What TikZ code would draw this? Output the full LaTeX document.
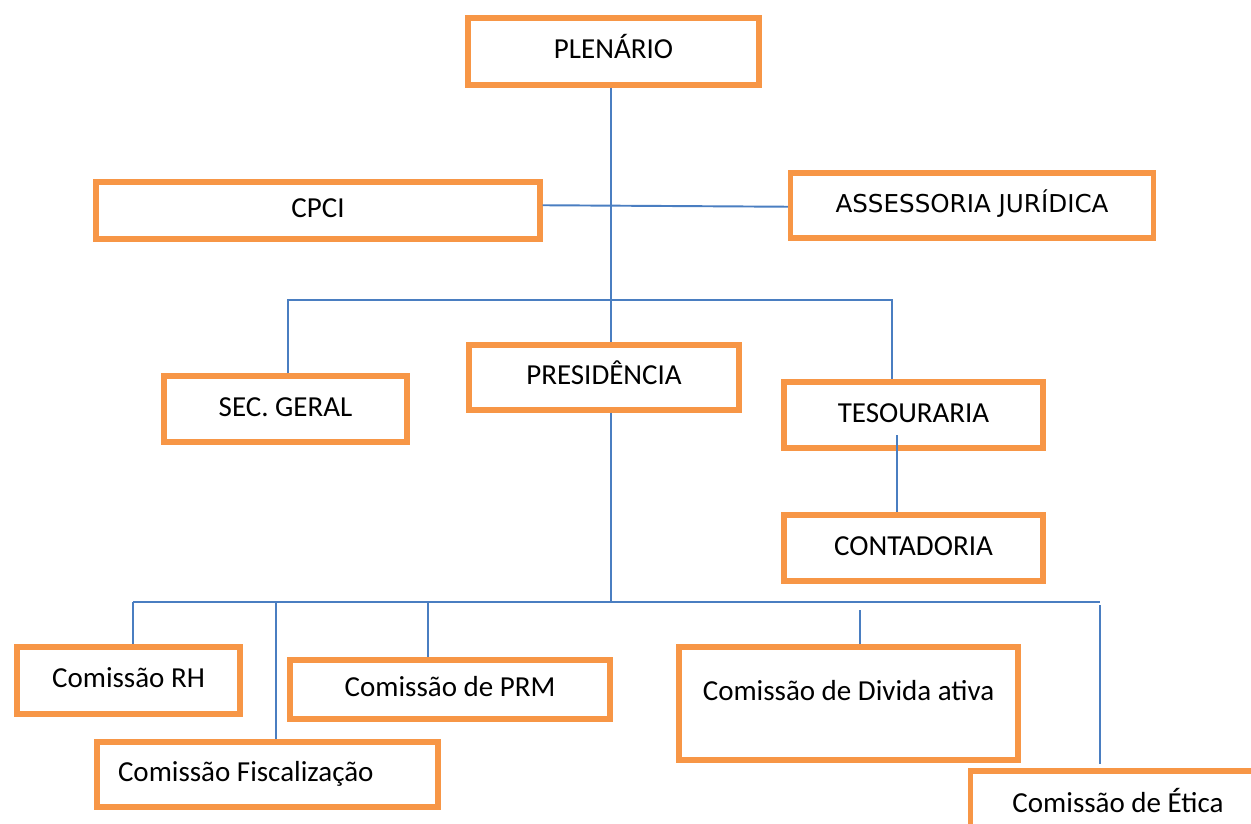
\documentclass[tikz,border=0pt]{standalone}
\usepackage{fontspec}
\setmainfont{Carlito}
\newfontfamily\widefont{DejaVu Sans}
\definecolor{boxorange}{RGB}{247,150,70}
\definecolor{linkblue}{RGB}{74,126,193}
\begin{document}
\begin{tikzpicture}[x=0.02cm, y=-0.02cm,
  orgbox/.style={draw=boxorange, line width=3pt, fill=white, inner sep=0pt,
    text height=11.5pt, text depth=3.5pt, font=\fontsize{16.5}{20}\selectfont},
  link/.style={draw=linkblue, line width=1.1pt}]
\useasboundingbox (0,0) rectangle (1251,823);
\clip (0,0) rectangle (1251,823);
% boxes
\node[orgbox, minimum width=5.82cm, minimum height=1.34cm] (plen) at (613.5,51.5){PLENÁRIO};
\node[orgbox, minimum width=8.88cm, minimum height=1.14cm] (cpci) at (318,210.5){CPCI};
\node[orgbox, minimum width=7.26cm, minimum height=1.30cm, font=\widefont\fontsize{14}{17}\selectfont] (assess) at (972,205.5){ASSESSORIA JURÍDICA};
\node[orgbox, minimum width=4.86cm, minimum height=1.32cm] (sec) at (285.5,409){SEC. GERAL};
\node[orgbox, minimum width=5.40cm, minimum height=1.30cm] (pres) at (604,377.5){PRESIDÊNCIA};
\node[orgbox, minimum width=5.18cm, minimum height=1.32cm] (tes) at (913.5,415){TESOURARIA};
\node[orgbox, minimum width=5.18cm, minimum height=1.32cm] (cont) at (913.5,548){CONTADORIA};
\node[orgbox, minimum width=4.46cm, minimum height=1.34cm] (rh) at (128.5,680.5){Comissão RH};
\node[orgbox, minimum width=6.40cm, minimum height=1.18cm] (prm) at (450,689.5){Comissão de PRM};
\node[orgbox, minimum width=6.82cm, minimum height=1.30cm, text width=5.98cm, align=flush left] (fisc) at (267.5,774.5){Comissão Fiscalização};
\node[orgbox, minimum width=6.78cm, minimum height=2.26cm, text depth=15.5pt] (div) at (848.5,703.5){Comissão de Divida ativa};
\node[orgbox, minimum width=5.90cm, minimum height=1.38cm] (etica) at (1118,805.5){Comissão de Ética};
% junctions
\coordinate (top) at (611,300);
\coordinate (busL) at (288,300);
\coordinate (busR) at (892,300);
\coordinate (mid) at (611,602);
\coordinate (botL) at (133,602);
\coordinate (botR) at (1100,602);
\coordinate (dropF) at (276,602);
\coordinate (dropP) at (428,602);
\coordinate (dropD) at (860,610);
\coordinate (dropE) at (1100,605);
\coordinate (endE) at (1100,764);
\coordinate (tesLink) at (897,435);
% connectors
\draw[link](top |- plen.south) -- (top |- pres.north);
\draw[link]([yshift=3pt]cpci.east) -- ([yshift=-0.7pt]assess.west);
\draw[link](busL |- sec.north) -- (busL) -- (busR) -- (busR |- tes.north);
\draw[link](tesLink) -- (tesLink |- cont.north);
\draw[link](mid |- pres.south) -- (mid);
\draw[link](botL) -- (botR);
\draw[link](botL) -- (botL |- rh.north);
\draw[link](dropF) -- (dropF |- fisc.north);
\draw[link](dropP) -- (dropP |- prm.north);
\draw[link](dropD) -- (dropD |- div.north);
\draw[link](dropE) -- (endE);
\end{tikzpicture}
\end{document}
